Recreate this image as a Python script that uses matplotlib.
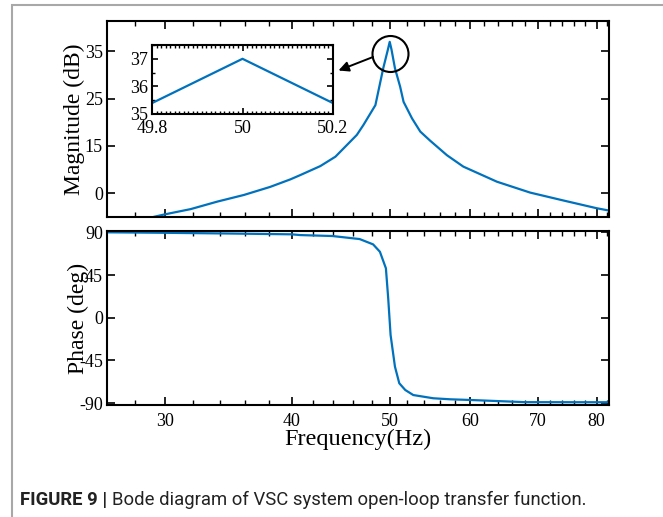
import matplotlib
matplotlib.use("Agg")
import matplotlib.pyplot as plt
from matplotlib.patches import Ellipse, Rectangle
from matplotlib.ticker import FixedLocator, NullFormatter, MultipleLocator

# ---------------- data ----------------
mag_freq = [29.3, 30.0, 31.8, 33.8, 35.9, 38.1, 39.9, 40.8, 42.7, 44.2, 46.4, 47.1, 48.4,
            49.27, 49.8, 50.0, 50.2, 50.6, 51.2, 51.6, 52.6, 53.6, 54.8, 56.95,
            59.1, 63.8, 68.8, 74.3, 80.0, 82.3]
mag_db = [0.0, 0.5, 1.6, 3.2, 4.6, 6.3, 7.9, 8.8, 10.7, 12.7, 17.3, 19.4, 23.6,
          31.4, 35.4, 37.0, 35.4, 31.4, 27.5, 24.3, 20.8, 18.0, 16.1, 13.0,
          10.6, 7.4, 5.1, 3.4, 1.8, 1.3]

phase_freq = [26.3, 30.0, 35.0, 40.0, 40.8, 43.9, 46.7, 48.15, 48.9, 49.57, 49.83, 50.1,
              50.6, 51.1, 51.8, 52.75, 55.2, 57.4, 60.0, 68.0, 82.3]
phase_deg = [90.0, 89.5, 88.7, 87.9, 87.1, 86.1, 82.9, 77.3, 69.5, 52.1, 20.4, -18.2,
             -51.6, -69.1, -76.2, -81.5, -84.9, -86.0, -86.7, -89.0, -89.1]

inset_freq = [49.8, 50.0, 50.2]
inset_db = [35.4, 37.0, 35.4]

x_major = [30, 40, 50, 60, 70, 80]
x_major_labels = ["30", "40", "50", "60", "70", "80"]
x_minor = [26, 28, 32, 34, 36, 38, 42, 44, 46, 48, 52, 54, 56, 58, 62, 64, 66, 68,
           72, 74, 76, 78, 82]
mag_ticks = [5, 15, 25, 35]
mag_tick_labels = ["0", "15", "25", "35"]
phase_ticks = [-90, -45, 0, 45, 90]
phase_tick_labels = ["-90", "-45", "0", "45", "90"]
inset_xticks = [49.8, 50.0, 50.2]
inset_xtick_labels = ["49.8", "50", "50.2"]
inset_yticks = [35, 36, 37]
inset_ytick_labels = ["35", "36", "37"]

caption_bold = "FIGURE 9 | "
caption_text = "Bode diagram of VSC system open-loop transfer function."

# ---------------- style ----------------
W, H = 663, 517
blue = "#0072BD"
serif = ["Liberation Serif", "DejaVu Serif"]
plt.rcParams["font.family"] = serif

fig = plt.figure(figsize=(W / 100, H / 100), dpi=100)

def fx(px):
    return px / W

def fy(py):
    return 1 - py / H

def style_axes(ax, lw=1.5):
    for s in ax.spines.values():
        s.set_linewidth(lw)
        s.set_color("black")
    ax.tick_params(which="both", direction="in", top=True, right=True,
                   colors="black", labelsize=13, pad=3)
    ax.tick_params(which="major", length=6, width=1.2)
    ax.tick_params(which="minor", length=3.5, width=1.0)

xlim = (26.3, 82.3)

# top axes: magnitude
ax1 = fig.add_axes([fx(107), fy(216.7), fx(609) - fx(107), fy(21) - fy(216.7)])
ax1.plot(mag_freq, mag_db, color=blue, lw=1.6)
ax1.set_xscale("log")
ax1.set_xlim(*xlim)
ax1.set_ylim(0, 41.4)
ax1.xaxis.set_major_locator(FixedLocator(x_major))
ax1.xaxis.set_minor_locator(FixedLocator(x_minor))
ax1.xaxis.set_major_formatter(NullFormatter())
ax1.xaxis.set_minor_formatter(NullFormatter())
ax1.set_yticks(mag_ticks)
ax1.set_yticklabels(mag_tick_labels)
style_axes(ax1)
ax1.set_ylabel("Magnitude (dB)", fontsize=17, labelpad=0)

# bottom axes: phase
ax2 = fig.add_axes([fx(107), fy(405), fx(609) - fx(107), fy(231) - fy(405)])
ax2.plot(phase_freq, phase_deg, color=blue, lw=1.6)
ax2.set_xscale("log")
ax2.set_xlim(*xlim)
ax2.set_ylim(-92, 91.4)
ax2.xaxis.set_major_locator(FixedLocator(x_major))
ax2.xaxis.set_minor_locator(FixedLocator(x_minor))
ax2.set_xticklabels(x_major_labels)
ax2.xaxis.set_minor_formatter(NullFormatter())
ax2.set_yticks(phase_ticks)
ax2.set_yticklabels(phase_tick_labels)
style_axes(ax2)
ax2.tick_params(axis="x", pad=6)
ax2.set_ylabel("Phase (deg)", fontsize=17, labelpad=-7)
ax2.set_xlabel("Frequency(Hz)", fontsize=17.5, labelpad=-1)

# inset
ax3 = fig.add_axes([fx(152.3), fy(114), fx(332.7) - fx(152.3), fy(45) - fy(114)])
ax3.plot(inset_freq, inset_db, color=blue, lw=1.6)
ax3.set_xlim(49.8, 50.2)
ax3.set_ylim(35, 37.5)
ax3.set_xticks(inset_xticks)
ax3.set_xticklabels(inset_xtick_labels)
ax3.set_yticks(inset_yticks)
ax3.set_yticklabels(inset_ytick_labels)
ax3.xaxis.set_minor_locator(MultipleLocator(0.01))
ax3.yaxis.set_minor_locator(MultipleLocator(0.5))
style_axes(ax3, lw=1.5)
ax3.tick_params(which="major", length=4)
ax3.tick_params(which="minor", length=2)
ax3.tick_params(axis="x", pad=4)

# circle around peak and arrow
circ = Ellipse((fx(390.5), fy(54)), 36 / W, 36 / H, transform=fig.transFigure,
               fill=False, edgecolor="black", lw=1.5)
fig.add_artist(circ)
ax1.annotate("", xy=(fx(338.5), fy(70.5)), xycoords="figure fraction",
             xytext=(fx(373), fy(57)), textcoords="figure fraction",
             arrowprops=dict(arrowstyle="-|>,head_length=0.6,head_width=0.3",
                             color="black", lw=1.4, shrinkA=0, shrinkB=0))

# outer gray frame
frame = Rectangle((fx(12), fy(520)), 1.0, fy(5) - fy(520), transform=fig.transFigure,
                  fill=False, edgecolor="#a8a8a8", lw=1.5)
fig.add_artist(frame)

# caption
t1 = fig.text(fx(20), fy(500), caption_bold, fontsize=13.3, fontweight="bold",
              family=["Roboto", "DejaVu Sans"], va="center", ha="left", color="#222222")
fig.canvas.draw()
bb = t1.get_window_extent(renderer=fig.canvas.get_renderer())
fig.text(bb.x1 / W, fy(500), caption_text, fontsize=13.3,
         family=["Roboto", "DejaVu Sans"], va="center", ha="left", color="#222222")

fig.savefig("out.png", dpi=100)
